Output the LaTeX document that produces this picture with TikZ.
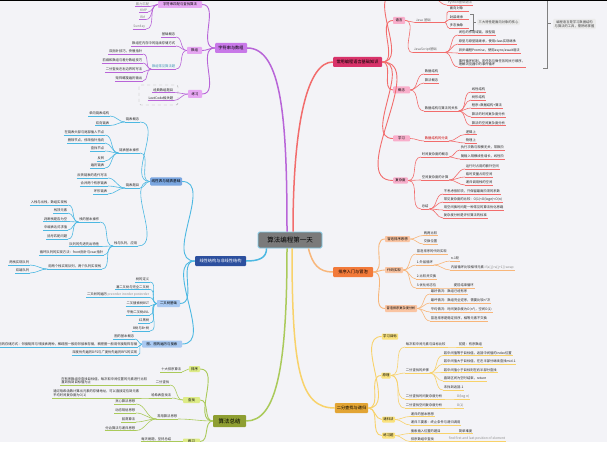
\documentclass[tikz,border=0pt]{standalone}
\usepackage{fontspec}
\setmainfont{Noto Sans CJK SC}
\usetikzlibrary{calc}
\definecolor{bg}{HTML}{F3F3F7}
\definecolor{cP}{HTML}{B864D8}\definecolor{fP}{HTML}{C878E8}\definecolor{sP}{HTML}{E6A6F2}
\definecolor{cR}{HTML}{F26C6C}\definecolor{fR}{HTML}{D8336A}\definecolor{sR}{HTML}{F9AECB}
\definecolor{cB}{HTML}{4CB8E2}\definecolor{fB}{HTML}{7AA6E0}\definecolor{dB}{HTML}{2C4F9E}\definecolor{sB}{HTML}{A9C9F2}
\definecolor{cG}{HTML}{AACA5A}\definecolor{fG}{HTML}{8E9E32}\definecolor{sG}{HTML}{DDEB86}
\definecolor{cO}{HTML}{F8B67A}\definecolor{fO}{HTML}{F27A3A}\definecolor{sO}{HTML}{FAC4A2}
\definecolor{cY}{HTML}{F8D26A}\definecolor{fY}{HTML}{E2A434}\definecolor{sY}{HTML}{FAE27C}
\tikzset{
 lf/.style={font=\fontsize{3.3}{3.9}\selectfont, inner xsep=0.7pt, inner ysep=0.6pt, text=black!85, align=left},
 ul/.style={line width=0.6pt},
 cn/.style={line width=0.6pt},
 sb/.style={font=\fontsize{3.4}{4}\selectfont, inner xsep=1.3pt, inner ysep=1pt, rounded corners=0.8pt, text=black},
 mb/.style={font=\fontsize{4.2}{5}\selectfont, inner xsep=2pt, inner ysep=2pt, rounded corners=1pt, text=black},
 cbox/.style={font=\fontsize{6.5}{7}\selectfont, fill=black!52, draw=cB!70, line width=0.9pt, rounded corners=1.5pt, minimum width=64pt, minimum height=16pt, text=black},
 mainline/.style={line width=1.5pt},
 subline/.style={line width=0.9pt},
 summ/.style={font=\fontsize{3.3}{3.9}\selectfont, fill=black!8, rounded corners=1pt, inner sep=1.5pt, text=black!75, align=center},
}
\newcommand\LR[7][]{\node[lf,anchor=south west,#1] (#2) at (#4,#5) {#6};\draw[#7,ul] (#2.south west) -- (#2.south east);\draw[#7,cn] (#3) to[out=0,in=180] (#2.south west);}
\newcommand\LL[7][]{\node[lf,anchor=south east,#1] (#2) at (#4,#5) {#6};\draw[#7,ul] (#2.south west) -- (#2.south east);\draw[#7,cn] (#3) to[out=180,in=0] (#2.south east);}
\begin{document}
\begin{tikzpicture}[x=1pt,y=-1pt]
\useasboundingbox (0,0) rectangle (607,465);
\fill[bg] (0,0) rectangle (607,442);
% centre
\node[cbox] (c) at (290,240) {算法编程第一天};
% ================= purple
\node[mb,fill=fP,minimum width=32pt,minimum height=10pt] (p0) at (231,48) {字符串与数组};
\draw[cP,mainline] (p0.east) .. controls +(35,0) and +(0,-110) .. ($(c.north)+(-3,0)$);
\node[sb,fill=sP,minimum width=44pt,minimum height=7pt] (p1) at (180,4.5) {字符串匹配与查找算法};
\draw[cP,subline] (p0.west) to[out=180,in=0] (p1.east);
\LL[text=black!50]{p1a}{p1.west}{150}{6.5}{暴力匹配}{cP}
\LL[text=black!50]{p1b}{p1.west}{148}{12}{KMP}{cP}
\LL[text=black!50]{p1c}{p1.west}{146}{19.5}{BM}{cP}
\LL[text=black!50]{p1d}{p1.west}{146}{29}{Sunday}{cP}
\node[sb,fill=sP,minimum width=15pt,minimum height=7pt] (p2) at (194.5,50.5) {数组};
\draw[cP,subline] (p0.west) to[out=180,in=0] (p2.east);
\LL{p2a}{p2.west}{176}{37}{基础概念}{cP}
\LL{p2b}{p2.west}{176}{46}{数组在内存中的连续存储方式}{cP}
\LL[text=cB!80!black]{p2c}{p2.west}{176}{69}{数组常见算法题}{cP}
\LL{p2c1}{p2c.south west}{143}{54}{双指针技巧，快慢指针}{cP}
\LL{p2c2}{p2c.south west}{143}{63}{前缀和数组与差分数组技巧}{cP}
\LL{p2c3}{p2c.south west}{143}{72}{二分查找左右边界的写法}{cP}
\LL{p2c4}{p2c.south west}{143}{81}{矩阵螺旋遍历输出}{cP}
\node[sb,fill=sP,minimum width=14pt,minimum height=8pt] (p3) at (195,94) {练习};
\draw[cP,subline] (p0.west) to[out=180,in=0] (p3.east);
\LL{p3a}{p3.west}{174}{92.5}{经典数组题目}{cP}
\LL{p3b}{p3.west}{174}{100.5}{LeetCode相关题}{cP}
\draw[black!35,dashed,rounded corners=2pt,line width=0.4pt] (139,85) rectangle (178,105);
% ================= red
\node[mb,fill=fR,minimum width=49pt,minimum height=10pt] (r0) at (357.5,62) {常用编程语言基础知识};
\draw[cR,mainline] ($(c.north)+(3,0)$) .. controls +(0,-110) and +(-25,0) .. (r0.west);
\coordinate (rtop) at (394,-6);
\draw[cR,subline] (r0.east) to[out=0,in=180] (rtop);
\coordinate (rtopb) at (430,-4);
\LR[text=black!55]{rcut}{rtopb}{447}{5}{Python基础语法}{cR}
\node[sb,fill=sR,minimum width=12pt,minimum height=7pt] (r1) at (399,20.5) {语言};
\draw[cR,subline] (r0.east) to[out=0,in=180] (r1.west);
\LR[text width=28pt,text=black!60]{r1a}{r1.east}{415}{22.5}{Java 基础}{cR}
\LR[text width=18pt]{r1a1}{r1a.south east}{449}{11}{面向对象}{cR}
\LR[text width=18pt]{r1a2}{r1a.south east}{449}{19.5}{封装继承}{cR}
\LR[text width=18pt]{r1a3}{r1a.south east}{449}{28}{多态抽象}{cR}
\draw[black!50,line width=0.5pt] (470,14) -- (473,14) -- (473,30) -- (470,30) (473,22) -- (476,22);
\node[summ,anchor=west] (r1s) at (477,22) {三大特性是面向对象的核心};
\LR[text width=30pt,text=black!60]{r1b}{r1.east}{413}{52.5}{JavaScript基础}{cR}
\LR{r1b1}{r1b.south east}{458}{35}{闭包的作用域链，原型链}{cR}
\LR{r1b2}{r1b.south east}{458}{44}{原型与原型链继承，使用class实现继承}{cR}
\LR{r1b3}{r1b.south east}{458}{53}{异步编程Promise，使用async/await语法}{cR}
\LR{r1b4}{r1b.south east}{458}{67}{事件循环机制，宏任务与微任务的执行顺序，\\理解浏览器中的事件循环}{cR}
\draw[black!50,line width=0.5pt] (543,-5) -- (547,-5) -- (547,68) -- (543,68) (547,23) -- (551,23);
\node[summ,anchor=west] (rs) at (553,24) {编程语言是学习数据结构\\与算法的工具，需熟练掌握};
\node[sb,fill=sR,minimum width=17pt,minimum height=7pt] (r2) at (401.5,90) {概念};
\draw[cR,subline] (r0.east) to[out=0,in=180] (r2.west);
\LR{r2a}{r2.east}{424}{74}{数据结构}{cR}
\LR{r2b}{r2.east}{424}{83}{算法概念}{cR}
\LR{r2c}{r2.east}{424}{111}{数据结构与算法的关系}{cR}
\LR{r2c1}{r2c.south east}{471}{92}{线性结构}{cR}
\LR{r2c2}{r2c.south east}{471}{100}{树形结构}{cR}
\LR{r2c3}{r2c.south east}{471}{108}{程序=数据结构+算法}{cR}
\LR{r2c4}{r2c.south east}{471}{117}{算法的时间复杂度分析}{cR}
\LR{r2c5}{r2c.south east}{471}{125.5}{算法的空间复杂度分析}{cR}
\node[sb,fill=sR,minimum width=17pt,minimum height=6pt] (r3) at (401.5,138.5) {学习};
\draw[cR,subline] (r0.east) to[out=0,in=180] (r3.west);
\LR[text=red!80!black]{r3a}{r3.east}{424}{141}{数据结构的分类}{cR}
\LR{r3a1}{r3a.south east}{465}{134.5}{逻辑上}{cR}
\LR{r3a2}{r3a.south east}{465}{143}{物理上}{cR}
\node[sb,fill=sR,minimum width=15pt,minimum height=6pt] (r4) at (400.5,180.5) {复杂度};
\draw[cR,subline] (r0.east) to[out=0,in=180] (r4.west);
\LR{r4a}{r4.east}{421}{157}{时间复杂度的概念}{cR}
\LR{r4a1}{r4a.south east}{460}{150}{执行次数与规模无关，常数阶}{cR}
\LR{r4a2}{r4a.south east}{460}{159}{随输入规模线性增长，线性阶}{cR}
\LR{r4b}{r4.east}{421}{180}{空间复杂度的计算}{cR}
\LR{r4b1}{r4b.south east}{465}{169}{运行时占用的额外空间}{cR}
\LR{r4b2}{r4b.south east}{465}{177}{临时变量占用空间}{cR}
\LR{r4b3}{r4b.south east}{465}{185}{递归调用栈的空间}{cR}
\LR{r4c}{r4.east}{421}{209}{总结}{cR}
\LR{r4c1}{r4c.south east}{443}{194}{不考虑低阶项，只保留最高阶项的系数}{cR}
\LR{r4c2}{r4c.south east}{443}{202}{常见复杂度的比较：O(1)<O(logn)<O(n)}{cR}
\LR{r4c3}{r4c.south east}{443}{210}{用空间换时间是一种常见的算法优化思路}{cR}
\LR{r4c4}{r4c.south east}{443}{218}{复杂度分析是评价算法的标准}{cR}
% ================= blue
\node[mb,fill=dB,text=white,minimum width=51pt,minimum height=10pt] (d0) at (220.5,261) {线性结构与非线性结构};
\draw[cB,mainline] ($(c.south west)+(9,0)$) .. controls +(0,10) and +(12,0) .. (d0.east);
\node[mb,fill=fB,minimum width=32pt,minimum height=8pt,inner xsep=1.2pt,font=\fontsize{3.6}{4}\selectfont] (b0) at (166,181.5) {线性表与链表基础};
\draw[cB,subline] (d0.west) to[out=180,in=0] (b0.east);
\LL{b1}{b0.west}{140}{122}{链表概念}{cB}
\LL{b1a}{b1.south west}{110}{116}{单向链表结构}{cB}
\LL{b1b}{b1.south west}{110}{125.5}{双向链表}{cB}
\LL{b2}{b0.west}{140}{153}{链表基本操作}{cB}
\LL{b2a}{b2.south west}{105}{135}{在链表头部与尾部插入节点}{cB}
\LL{b2b}{b2.south west}{105}{143}{删除节点，修改指针指向}{cB}
\LL{b2c}{b2.south west}{105}{151}{查找节点}{cB}
\LL{b2d}{b2.south west}{105}{161}{反转}{cB}
\LL{b2e}{b2.south west}{105}{168}{遍历链表}{cB}
\LL{b3}{b0.west}{140}{188}{链表题目}{cB}
\LL{b3a}{b3.south west}{108}{178}{反转链表的迭代写法}{cB}
\LL{b3b}{b3.south west}{108}{186}{合并两个有序链表}{cB}
\LL{b3c}{b3.south west}{108}{194}{环形链表}{cB}
\LL{b4}{b0.west}{138}{246}{栈与队列，应用}{cB}
\LL{b4a}{b4.south west}{100}{222}{栈的基本操作}{cB}
\LL{b4a1}{b4a.south west}{68}{205}{入栈与出栈，数组实现栈}{cB}
\LL{b4a2}{b4a.south west}{68}{213}{栈顶元素}{cB}
\LL{b4a3}{b4a.south west}{68}{221.5}{判断栈是否为空}{cB}
\LL{b4a4}{b4a.south west}{68}{230}{中缀表达式求值}{cB}
\LL{b4a5}{b4a.south west}{68}{239}{括号匹配问题}{cB}
\LL{b4b}{b4.south west}{100}{246.5}{队列的先进先出特性}{cB}
\LL{b4c}{b4.south west}{104}{255}{循环队列的实现方法：front指针与rear指针}{cB}
\LL{b4d}{b4.south west}{102}{269}{用两个栈实现队列，两个队列实现栈}{cB}
\LL{b4d1}{b4d.south west}{30}{265}{两栈实现队列}{cB}
\LL{b4d2}{b4d.south west}{30}{273}{双端队列}{cB}
\node[sb,fill=sB,minimum width=23pt,minimum height=7pt] (d1) at (168.5,303.5) {二叉树基础};
\draw[cB,subline] (d0.west) to[out=180,in=0] (d1.east);
\LL{d1a}{d1.west}{150}{282}{树的定义}{cB}
\LL{d1b}{d1.west}{150}{289.5}{满二叉树与完全二叉树}{cB}
\LL{d1c}{d1.west}{150}{297.5}{二叉树的遍历 {\color{black!45}preorder inorder postorder}}{cB}
\LL{d1d}{d1.west}{150}{306}{二叉搜索树BST}{cB}
\LL{d1e}{d1.west}{150}{315}{平衡二叉树AVL}{cB}
\LL{d1f}{d1.west}{150}{323}{红黑树}{cB}
\LL{d1g}{d1.west}{150}{331}{B树与B+树}{cB}
\node[sb,fill=sB,minimum width=40pt,minimum height=7pt] (d2) at (162,344) {图、图的遍历与搜索};
\draw[cB,subline] (d0.west) to[out=180,in=0] (d2.east);
\LL{d2a}{d2.west}{135}{339}{图的基本概念}{cB}
\LL{d2b}{d2.west}{138}{347}{图的存储方式：邻接矩阵与邻接表两种，稀疏图一般用邻接表存储，稠密图一般用邻接矩阵存储}{cB}
\LL{d2c}{d2.west}{138}{355}{深度优先遍历DFS与广度优先遍历BFS的实现}{cB}
% ================= green
\node[mb,fill=fG,minimum width=33pt,minimum height=12pt,font=\fontsize{5.5}{6}\selectfont] (g0) at (229.5,421) {算法总结};
\draw[cG,mainline] ($(c.south)+(-3,0)$) .. controls +(0,120) and +(30,0) .. (g0.east);
\node[sb,fill=sG,minimum width=11pt,minimum height=6pt] (g1) at (194.5,369) {排序};
\draw[cG,subline] (g0.west) to[out=180,in=0] (g1.east);
\LL{g1a}{g1.west}{182}{372}{十大排序算法}{cG}
\node[sb,fill=sG,minimum width=17pt,minimum height=6pt] (g2) at (191.5,400) {查找};
\draw[cG,subline] (g0.west) to[out=180,in=0] (g2.east);
\LL{g2a}{g2.west}{170}{385}{二分查找}{cG}
\LL{g2a1}{g2a.south west}{148}{385}{在有序数组中查找目标值，每次取中间位置的元素进行比较\\直到找到目标值为止}{cG}
\LL{g2b}{g2.west}{172}{398}{哈希表查找法}{cG}
\LL{g2b1}{g2b.south west}{140}{398}{通过哈希函数计算出元素的存储地址，可以直接定位到元素\\平均时间复杂度为O(1)}{cG}
\LL{g3}{g0.west}{178}{419}{常用算法思想}{cG}
\LL{g3a}{g3.south west}{136}{404}{贪心算法思想}{cG}
\LL{g3b}{g3.south west}{136}{413}{动态规划思想}{cG}
\LL{g3c}{g3.south west}{136}{422}{回溯算法}{cG}
\LL{g3d}{g3.south west}{136}{430.5}{分治算法与递归思想}{cG}
\node[sb,fill=sG,minimum width=17pt,minimum height=6pt] (g4) at (191.5,441.5) {练习};
\draw[cG,subline] (g0.west) to[out=180,in=0] (g4.east);
\LL{g4a}{g4.west}{172}{441.5}{每天刷题，坚持总结}{cG}
% ================= orange
\node[mb,fill=fO,minimum width=40pt,minimum height=10pt] (o0) at (353,272) {排序入门与冒泡};
\draw[cO,mainline] ($(c.south east)+(-14,0)$) .. controls +(4,16) and +(-14,0) .. (o0.west);
\node[sb,fill=sO,minimum width=25pt,minimum height=6pt] (o1) at (397.5,239) {冒泡排序思想};
\draw[cO,subline] (o0.east) to[out=0,in=180] (o1.west);
\LR{o1a}{o1.east}{423}{235.5}{两两比较}{cO}
\LR{o1b}{o1.east}{423}{244}{交换位置}{cO}
\node[sb,fill=sO,minimum width=18pt,minimum height=6pt] (o2) at (394,270) {代码实现};
\draw[cO,subline] (o0.east) to[out=0,in=180] (o2.west);
\LR{o2a}{o2.east}{416}{254}{冒泡排序的代码实现}{cO}
\LR{o2b}{o2.east}{416}{265}{1.外层循环}{cO}
\LR{o2b1}{o2b.south east}{450}{261}{n-1轮}{cO}
\LR{o2b2}{o2b.south east}{450}{270}{内层循环比较相邻元素 {\color{black!45}if(a[j]>a[j+1]) swap}}{cO}
\LR{o2c}{o2.east}{416}{279}{2.比较并交换}{cO}
\LR{o2d}{o2.east}{416}{288}{3.优化标志位}{cO}
\LR{o2d1}{o2d.south east}{453}{288}{提前结束循环}{cO}
\node[sb,fill=sO,minimum width=32pt,minimum height=7pt,font=\fontsize{3.2}{4}\selectfont] (o3) at (401,308.5) {冒泡排序复杂度分析};
\draw[cO,subline] (o0.east) to[out=0,in=180] (o3.west);
\LR{o3a}{o3.east}{430}{294}{最好情况：数组已经有序}{cO}
\LR{o3b}{o3.east}{430}{303}{最坏情况：数组完全逆序，需要比较n²次}{cO}
\LR{o3c}{o3.east}{430}{312}{平均情况：时间复杂度为O(n²)，空间O(1)}{cO}
\LR{o3d}{o3.east}{430}{321}{冒泡排序是稳定排序，相等元素不交换}{cO}
% ================= yellow
\node[mb,fill=fY,minimum width=33pt,minimum height=10pt] (y0) at (351.5,408) {二分查找与递归};
\draw[cY,mainline] ($(c.south)+(2,0)$) .. controls +(0,120) and +(-35,0) .. (y0.west);
\node[sb,fill=sY,minimum width=16pt,minimum height=6pt] (y1) at (390,336.5) {学习目标};
\draw[cY,subline] (y0.east) to[out=0,in=180] (y1.west);
\node[sb,fill=sY,minimum width=9pt,minimum height=6pt] (y2) at (386,375.5) {原理};
\draw[cY,subline] (y0.east) to[out=0,in=180] (y2.west);
\LR{y2a}{y2.east}{405}{347}{每次取中间元素与目标比较}{cY}
\LR{y2a1}{y2a.south east}{458}{347}{前提：有序数组}{cY}
\LR{y2b}{y2.east}{405}{373}{二分查找的步骤}{cY}
\LR{y2b1}{y2b.south east}{443}{355.5}{若中间值等于目标值，返回中间值的index位置}{cY}
\LR{y2b2}{y2b.south east}{443}{364}{若中间值大于目标值，在左半部分继续查找mid-1}{cY}
\LR{y2b3}{y2b.south east}{443}{372.5}{若中间值小于目标则在右半部分查找}{cY}
\LR{y2b4}{y2b.south east}{443}{381}{直到区间为空时结束，return}{cY}
\LR{y2b5}{y2b.south east}{443}{390}{未找到返回-1}{cY}
\LR{y2c}{y2.east}{405}{399}{二分查找时间复杂度分析}{cY}
\LR[text=black!55]{y2c1}{y2c.south east}{456}{399}{O(log n)}{cY}
\LR{y2d}{y2.east}{405}{408}{二分查找空间复杂度分析}{cY}
\LR[text=black!55]{y2d1}{y2d.south east}{456}{408}{O(1)}{cY}
\node[sb,fill=sY,minimum width=13pt,minimum height=6pt] (y3) at (388.5,419.5) {递归法};
\draw[cY,subline] (y0.east) to[out=0,in=180] (y3.west);
\LR{y3a}{y3.east}{410}{416.5}{递归的基本思想}{cY}
\LR{y3b}{y3.east}{410}{425}{递归三要素：终止条件与递归调用}{cY}
\node[sb,fill=sY,minimum width=13pt,minimum height=6pt] (y4) at (388.5,435.5) {练习题};
\draw[cY,subline] (y0.east) to[out=0,in=180] (y4.west);
\LR{y4a}{y4.east}{410}{433.5}{搜索插入位置的题目}{cY}
\LR{y4a1}{y4a.south east}{458}{433.5}{简单难度}{cY}
\LR{y4b}{y4.east}{410}{441.5}{排序数组中查找}{cY}
\LR[text=black!45]{y4b1}{y4b.south east}{448}{441.5}{find first and last position of element}{cY}
% frame
\fill[white] (0,442) rectangle (607,465);
\fill[black] (0,0) rectangle (607,1.3);
\end{tikzpicture}
\end{document}
